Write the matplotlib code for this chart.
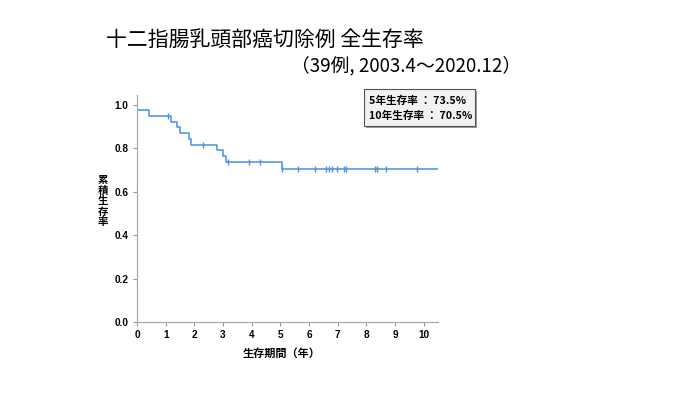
import matplotlib
matplotlib.use("Agg")
import matplotlib.pyplot as plt
from matplotlib.patches import Rectangle

plt.rcParams['font.family'] = ['Noto Sans CJK JP', 'DejaVu Sans']

# Kaplan-Meier step data
step_times = [0.0, 0.42, 1.17, 1.40, 1.50, 1.81, 1.88, 2.80, 3.01, 3.10, 5.07, 10.5]
step_surv = [0.974, 0.949, 0.922, 0.896, 0.870, 0.843, 0.817, 0.790, 0.763, 0.736, 0.705, 0.705]
censor_times = [1.09, 2.31, 3.18, 3.90, 4.30, 5.07, 5.60, 6.20, 6.61, 6.70, 6.79,
                6.98, 7.21, 7.30, 8.29, 8.37, 8.68, 9.78]

x_ticks = [0, 1, 2, 3, 4, 5, 6, 7, 8, 9, 10]
y_ticks = [0.0, 0.2, 0.4, 0.6, 0.8, 1.0]

title = "十二指腸乳頭部癌切除例 全生存率"
subtitle = "（39例, 2003.4～2020.12）"
box_lines = ["5年生存率 ： 73.5%", "10年生存率 ： 70.5%"]
xlabel = "生存期間（年）"
ylabel_chars = ["累", "積", "生", "存", "率"]

line_color = "#4a8fe0"

fig = plt.figure(figsize=(7.0, 3.94), dpi=100)
ax = fig.add_axes([137/700, 1-322/394, (438-137)/700, (322-95)/394])

ax.step(step_times, step_surv, where='post', color=line_color, lw=1.1)

def surv_at(t):
    v = step_surv[0]
    for tt, s in zip(step_times, step_surv):
        if tt <= t:
            v = s
    return v

ax.plot(censor_times, [surv_at(t) for t in censor_times], linestyle='none',
        marker='|', markersize=5, markeredgewidth=1.0, color=line_color)

ax.set_xlim(0, 10.5)
ax.set_ylim(0, 1.045)
ax.set_xticks(x_ticks)
ax.set_yticks(y_ticks)
ax.set_xticklabels([str(v) for v in x_ticks])
ax.set_yticklabels([f"{v:.1f}" for v in y_ticks])
for lab in ax.get_xticklabels() + ax.get_yticklabels():
    lab.set_fontfamily(['Liberation Sans', 'DejaVu Sans'])
    lab.set_fontweight('bold')
    lab.set_fontsize(7.2)
ax.tick_params(axis='both', direction='out', length=3, width=0.8, color='#999999', pad=3)
for s in ['top', 'right']:
    ax.spines[s].set_visible(False)
for s in ['left', 'bottom']:
    ax.spines[s].set_color('#aaaaaa')
    ax.spines[s].set_linewidth(0.9)

fig.text(282/700, 1-353/394, xlabel, ha='center', va='center', fontsize=8, fontweight='bold')
for i, ch in enumerate(ylabel_chars):
    fig.text(103/700, 1-(180 + i*10.5)/394, ch, ha='center', va='center', fontsize=7.5,
             fontweight='bold')

fig.text(106/700, 1-40/394, title, ha='left', va='center', fontsize=15)
fig.text(291/700, 1-66/394, subtitle, ha='left', va='center', fontsize=13.5)

# annotation box with shadow
bx0, by0, bx1, by1 = 364, 89, 475, 126
fig.patches.append(Rectangle(((bx0+2)/700, 1-(by1+2)/394), (bx1-bx0)/700, (by1-by0)/394,
                             transform=fig.transFigure, facecolor='#9a9a9a', edgecolor='none'))
fig.patches.append(Rectangle((bx0/700, 1-by1/394), (bx1-bx0)/700, (by1-by0)/394,
                             transform=fig.transFigure, facecolor='#f2f2f2',
                             edgecolor='#555555', linewidth=0.8))
fig.text(369/700, 1-101/394, box_lines[0], ha='left', va='center', fontsize=7.7, fontweight='bold')
fig.text(369/700, 1-116/394, box_lines[1], ha='left', va='center', fontsize=7.7, fontweight='bold')

fig.savefig("out.png", dpi=100)
